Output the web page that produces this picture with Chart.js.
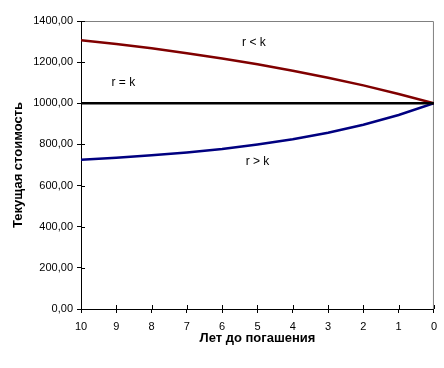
<!DOCTYPE html>
<html>
<head>
<meta charset="utf-8">
<script src="https://cdn.jsdelivr.net/npm/chart.js@4/dist/chart.umd.min.js"></script>
<style>
  html, body { margin: 0; padding: 0; background: #fff; }
  #wrap { width: 444px; height: 368px; }
</style>
</head>
<body>
<div id="wrap"><canvas id="bondChart" width="444" height="368"></canvas></div>
<script>
// Years to maturity (left to right)
const years = [10, 9, 8, 7, 6, 5, 4, 3, 2, 1, 0];

// Present value of the bond
const belowRate = [1307, 1288, 1267, 1243, 1218, 1190, 1158, 1124, 1087, 1045, 1000]; // r < k
const equalRate = [1000, 1000, 1000, 1000, 1000, 1000, 1000, 1000, 1000, 1000, 1000]; // r = k
const aboveRate = [725, 735, 747, 761, 778, 800, 825, 857, 896, 943, 1000];           // r > k

// Text labels inside the plot (in data units)
const curveLabels = [
  { text: 'r < k', year: 5.1, value: 1294 },
  { text: 'r = k', year: 8.8, value: 1100 },
  { text: 'r > k', year: 5.0, value: 716 },
];

const FONT = 'Arial, "Liberation Sans", sans-serif';

const toPoints = (values) => values.map((v, i) => ({ x: years[i], y: v }));

// gray frame on top/right, inner half of the cross ticks, curve labels
const framePlugin = {
  id: 'frame',
  beforeDatasetsDraw(chart) {
    const { ctx, chartArea: a, scales: { x, y } } = chart;
    ctx.save();
    ctx.strokeStyle = '#808080';
    ctx.lineWidth = 1;
    ctx.beginPath();
    ctx.moveTo(a.left, a.top + 0.5);
    ctx.lineTo(a.right - 0.5, a.top + 0.5);
    ctx.lineTo(a.right - 0.5, a.bottom);
    ctx.stroke();

    ctx.strokeStyle = '#000';
    ctx.beginPath();
    y.ticks.forEach(t => {
      const py = Math.round(y.getPixelForValue(t.value)) + 0.5;
      ctx.moveTo(a.left, py);
      ctx.lineTo(a.left + 4, py);
    });
    x.ticks.forEach(t => {
      const px = Math.round(x.getPixelForValue(t.value)) + 0.5;
      ctx.moveTo(px, a.bottom);
      ctx.lineTo(px, a.bottom - 4);
    });
    ctx.stroke();
    ctx.restore();
  },
  afterDatasetsDraw(chart) {
    const { ctx, scales: { x, y } } = chart;
    ctx.save();
    ctx.fillStyle = '#000';
    ctx.font = '12px ' + FONT;
    ctx.textAlign = 'center';
    ctx.textBaseline = 'middle';
    curveLabels.forEach(l => {
      ctx.fillText(l.text, x.getPixelForValue(l.year), y.getPixelForValue(l.value));
    });
    ctx.restore();
  }
};

new Chart(document.getElementById('bondChart').getContext('2d'), {
  type: 'line',
  data: {
    datasets: [
      { label: 'r = k', data: toPoints(equalRate), borderColor: '#000000', borderWidth: 2.5 },
      { label: 'r < k', data: toPoints(belowRate), borderColor: '#800000', borderWidth: 2.5 },
      { label: 'r > k', data: toPoints(aboveRate), borderColor: '#000080', borderWidth: 2.5 },
    ]
  },
  options: {
    responsive: false,
    animation: false,
    layout: { padding: { top: 21, right: 10, left: 0, bottom: 0 } },
    elements: {
      point: { radius: 0, hoverRadius: 0 },
      line: { tension: 0, borderCapStyle: 'butt' }
    },
    plugins: {
      legend: { display: false },
      tooltip: { enabled: false }
    },
    scales: {
      x: {
        type: 'linear',
        reverse: true,
        min: 0,
        max: 10,
        afterFit: s => { s.height = 59; },
        border: { color: '#000', width: 1 },
        grid: { display: true, drawOnChartArea: false, drawTicks: true, tickLength: 4, color: '#000' },
        ticks: {
          stepSize: 1,
          padding: 7,
          color: '#000',
          font: { family: FONT, size: 11 },
          maxRotation: 0
        },
        title: {
          display: true,
          text: 'Лет до погашения',
          color: '#000',
          font: { family: FONT, size: 13, weight: 'bold' },
          padding: { top: 0, bottom: 22 }
        }
      },
      y: {
        min: 0,
        max: 1400,
        afterFit: s => { s.width = 81; },
        border: { color: '#000', width: 1 },
        grid: { display: true, drawOnChartArea: false, drawTicks: true, tickLength: 4, color: '#000' },
        ticks: {
          stepSize: 200,
          padding: 4,
          color: '#000',
          font: { family: FONT, size: 11 },
          callback: v => v.toFixed(2).replace('.', ',')
        },
        title: {
          display: true,
          text: 'Текущая стоимость',
          color: '#000',
          font: { family: FONT, size: 13, weight: 'bold' },
          padding: { top: 11, bottom: 0 }
        }
      }
    }
  },
  plugins: [framePlugin]
});
</script>
</body>
</html>
